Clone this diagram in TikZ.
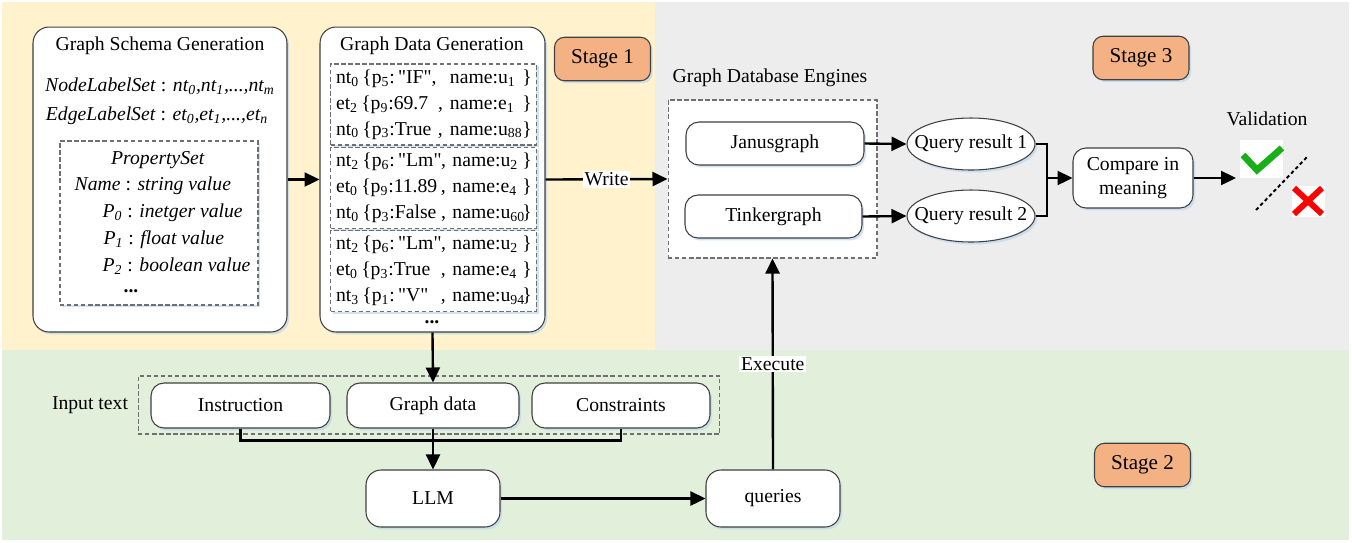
\documentclass[tikz,border=0pt]{standalone}
\usepackage{fontspec}
\setmainfont{Liberation Serif}
\usetikzlibrary{arrows.meta,shapes.geometric,shadows}
\definecolor{stageone}{HTML}{FFF2CC}
\definecolor{stagethree}{HTML}{EDEDED}
\definecolor{stagetwo}{HTML}{E2EFDA}
\definecolor{stagetag}{HTML}{F4B183}
\definecolor{okgreen}{HTML}{19AF19}
\definecolor{boxline}{HTML}{404040}
\definecolor{dashline}{HTML}{707070}
\definecolor{glow}{HTML}{BDD7EE}
\newcommand{\tsub}[1]{\textsubscript{#1}}
\newcommand{\qt}{\textquotedbl}
\newcommand{\rowtxt}[3]{\makebox[#1][l]{#2}\makebox[\dimexpr3.73cm-#1\relax][l]{#3}\}}

\begin{document}
\begin{tikzpicture}[x=0.02cm, y=-0.02cm, font=\fontsize{11.2}{13.5}\selectfont,
    glowy/.style={drop shadow={shadow xshift=1.2pt, shadow yshift=-1.4pt, fill=glow, opacity=0.7}},
    box/.style={draw=boxline, fill=white, line width=0.6pt, rounded corners=0.26cm, inner sep=0pt, glowy},
    bigbox/.style={box, rounded corners=0.32cm},
    groupbox/.style={draw=dashline, dash pattern=on 2.5pt off 1.5pt, line width=0.6pt, inner sep=0pt},
    rows/.style={groupbox, fill=white, glowy, font=\fontsize{11.2}{14.7}\selectfont, align=left,
        text width=3.9cm, inner xsep=0.11cm, minimum height=1.62cm},
    tag/.style={draw=boxline, fill=stagetag, line width=0.6pt, rounded corners=0.2cm, glowy,
        minimum width=1.92cm, minimum height=0.87cm, font=\fontsize{12}{14}\selectfont},
    result/.style={ellipse, draw=boxline, fill=white, line width=0.6pt, glowy,
        minimum width=2.56cm, minimum height=1.04cm},
    link/.style={line width=1.35pt},
    flow/.style={link, -{Triangle[length=0.3cm, width=0.28cm]}}]
    \useasboundingbox (0,0) rectangle (1352,542);
    \fill [stageone]   (2,2)   rectangle (655,350);
    \fill [stagethree] (655,2) rectangle (1349,350);
    \fill [stagetwo]   (2,350) rectangle (1349,540);

    \node [bigbox, minimum width=5.08cm, minimum height=6.1cm] (schema) at (160,179.5) {};
    \node (schematitle) at (160,46) {Graph Schema Generation};
    \node (nodeset) at (160,86) {\textit{NodeLabelSet} : \textit{nt\tsub{0},nt\tsub{1},...,nt\tsub{m}}};
    \node (edgeset) at (157,116) {\textit{EdgeLabelSet} : \textit{et\tsub{0},et\tsub{1},...,et\tsub{n}}};
    \node [groupbox, fill=white, glowy, minimum width=3.96cm, minimum height=3.28cm] (propset) at (159,223) {};
    \node (proptitle) at (158,160) {\textit{PropertySet}};
    \node [anchor=west] (pname) at (68.5,186) {\textit{Name} : \textit{string value}};
    \node [anchor=west] (pzero) at (96.5,213) {\textit{P\tsub{0}} : \textit{inetger value}};
    \node [anchor=west] (pone) at (97.5,240) {\textit{P\tsub{1}} : \textit{float value}};
    \node [anchor=west] (ptwo) at (96.5,266) {\textit{P\tsub{2}} : \textit{boolean value}};
    \node [inner sep=0pt] (moreprops) at (131,291) {\bfseries ...};

    \node [bigbox, minimum width=4.5cm, minimum height=6.1cm] (datagen) at (432.5,179.5) {};
    \node (datatitle) at (432,46) {Graph Data Generation};
    \node [rows] (rowsa) at (433.5,104.5) {%
        \rowtxt{2.28cm}{nt\tsub{0}\,\{p\tsub{5}:\,\qt IF\qt,}{name:u\tsub{1}}\\
        \rowtxt{2.28cm}{et\tsub{2}\,\{p\tsub{9}:69.7 \,,}{name:e\tsub{1}}\\
        \rowtxt{2.28cm}{nt\tsub{0}\,\{p\tsub{3}:True ,}{name:u\tsub{88}}};
    \node [rows] (rowsb) at (433.5,188) {%
        \rowtxt{2.1cm}{nt\tsub{2}\,\{p\tsub{6}:\,\qt Lm\qt}{, name:u\tsub{2}}\\
        \rowtxt{2.1cm}{et\tsub{0}\,\{p\tsub{9}:11.89}{, name:e\tsub{4}}\\
        \rowtxt{2.1cm}{nt\tsub{0}\,\{p\tsub{3}:False}{, name:u\tsub{60}}};
    \node [rows] (rowsc) at (433.5,271) {%
        \rowtxt{2.1cm}{nt\tsub{2}\,\{p\tsub{6}:\,\qt Lm\qt}{, name:u\tsub{2}}\\
        \rowtxt{2.1cm}{et\tsub{0}\,\{p\tsub{3}:True}{, name:e\tsub{4}}\\
        \rowtxt{2.1cm}{nt\tsub{3}\,\{p\tsub{1}:\,\qt V\qt}{, name:u\tsub{94}}};
    \node [inner sep=0pt] (moredata) at (432,322) {\bfseries ...};
    \node [tag] (stagea) at (602.5,59) {Stage 1};

    \node (dbtitle) at (770,78) {Graph Database Engines};
    \node [groupbox, fill=white, minimum width=4.18cm, minimum height=3.16cm] (engines) at (772.5,179) {};
    \node [box, minimum width=3.56cm, minimum height=0.86cm] (janus) at (775,143.5) {Janusgraph};
    \node [box, minimum width=3.54cm, minimum height=0.86cm] (tinker) at (773.5,216.5) {Tinkergraph};
    \node [result, label={center:Query result 1}] (resa) at (971,144) {};
    \node [result, label={center:Query result 2}] (resb) at (971,216) {};
    \node [box, minimum width=2.4cm, minimum height=1.2cm, align=center] (compare) at (1133,178) {Compare in\\meaning};
    \node (validtitle) at (1267,119) {Validation};
    \node [fill=white, minimum width=0.86cm, minimum height=0.76cm, inner sep=0pt] (okmark) at (1261.5,159) {};
    \node [fill=white, minimum width=0.66cm, minimum height=0.62cm, inner sep=0pt] (nomark) at (1308,201) {};
    \draw [okgreen, line width=3.8pt] (1243,155) -- (1257,170) -- (1282,148);
    \draw [red, line width=3.4pt] (1294,188) -- (1322,214) (1322,188) -- (1294,214);
    \draw [line width=1.1pt, dash pattern=on 2pt off 1.6pt] (1256,210) -- (1308,156);
    \node [tag] (stagec) at (1141,58) {Stage 3};

    \node (inputtitle) at (90,405) {Input text};
    \node [groupbox, minimum width=11.64cm, minimum height=1.16cm] (inputs) at (429,405) {};
    \node [box, minimum width=3.58cm, minimum height=0.9cm] (instr) at (240.5,405.5) {Instruction};
    \node [box, minimum width=3.44cm, minimum height=0.9cm] (gdata) at (433,405.5) {Graph data};
    \node [box, minimum width=3.56cm, minimum height=0.9cm] (cons) at (621,405.5) {Constraints};
    \node [box, rounded corners=0.3cm, minimum width=2.68cm, minimum height=1.14cm] (llm) at (433,498.5) {LLM};
    \node [box, rounded corners=0.3cm, minimum width=2.68cm, minimum height=1.14cm] (queries) at (773,498.5) {queries};
    \node [tag] (stageb) at (1142.5,465) {Stage 2};

    \coordinate (merge) at (1047,178);
    \coordinate (verdict) at (1236,178);
    \draw [flow] (schema.east) -- (datagen.west);
    \draw [flow] (datagen.east) -- node [fill=white, inner sep=1pt] (writelbl) {Write} (engines.west);
    \draw [flow] (janus.east) -- (resa.west);
    \draw [flow] (tinker.east) -- (resb.west);
    \draw [link] (resa.east) -| (merge);
    \draw [link] (resb.east) -| (merge);
    \draw [flow] (merge) -- (compare.west);
    \draw [flow] (compare.east) -- (verdict);
    \draw [flow] (datagen.south) -- (gdata.north);
    \draw [link] (instr.south) -- ++(0,12) -| (cons.south);
    \draw [flow] (gdata.south) -- (llm.north);
    \draw [flow] (llm.east) -- (queries.west);
    \draw [flow] (queries.north) -- node [fill=white, inner sep=1pt] (execlbl) {Execute} (engines.south);
\end{tikzpicture}
\end{document}
